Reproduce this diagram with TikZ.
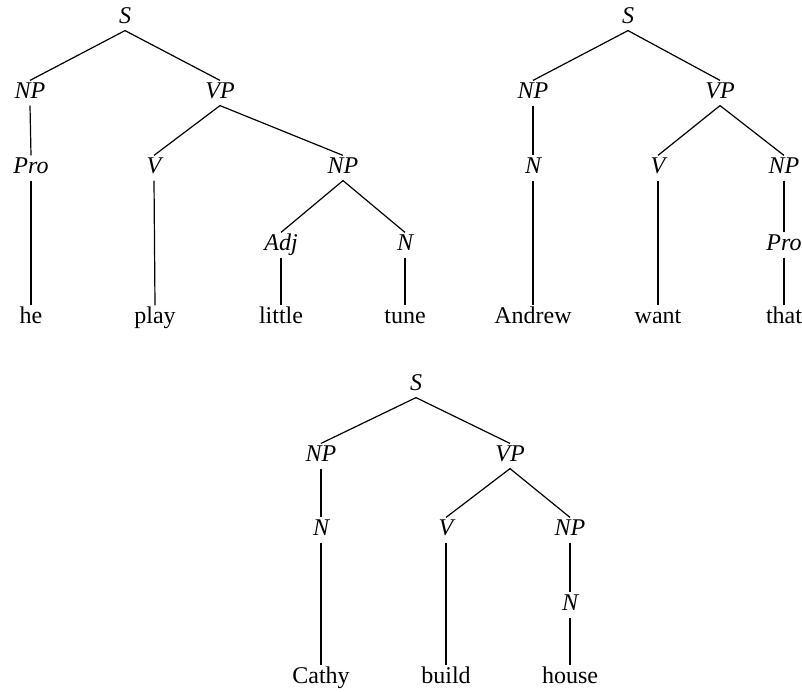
\documentclass[tikz,border=0pt]{standalone}
\usepackage{fontspec}
\setmainfont{Liberation Serif}
\usepackage{tikz}

\begin{document}
\begin{tikzpicture}[x=0.5pt, y=-0.5pt, line width=0.6pt,
  every node/.style={inner sep=1.5pt, text height=0.7em, text depth=0.2em,
    font=\fontsize{12}{14}\selectfont},
  cat/.style={font=\fontsize{12}{14}\selectfont\itshape}]
  \useasboundingbox (0,0) rectangle (802,691);
  % he play little tune
  \node[cat] (s1) at (125,18) {S};
  \node[cat] (np1) at (30,93) {NP};
  \node[cat] (vp1) at (220,93) {VP};
  \node[cat] (pro1) at (31,168) {Pro};
  \node[cat] (v1) at (154,168) {V};
  \node[cat] (obj1) at (343,168) {NP};
  \node[cat] (adj1) at (281,245) {Adj};
  \node[cat] (n1) at (405,245) {N};
  \node (he) at (31,318) {he};
  \node (play) at (155,318) {play};
  \node (little) at (281,318) {little};
  \node (tune) at (405,318) {tune};
  \foreach \a/\b in {s1/np1, s1/vp1, np1/pro1, pro1/he, vp1/v1, vp1/obj1,
                     v1/play, obj1/adj1, obj1/n1, adj1/little, n1/tune}
    \draw (\a.south) -- (\b.north);
  % Andrew want that
  \node[cat] (s2) at (628,18) {S};
  \node[cat] (np2) at (533,93) {NP};
  \node[cat] (vp2) at (720,93) {VP};
  \node[cat] (n2) at (533,168) {N};
  \node[cat] (v2) at (658,168) {V};
  \node[cat] (obj2) at (784,168) {NP};
  \node[cat] (pro2) at (784,245) {Pro};
  \node (andrew) at (533,318) {Andrew};
  \node (want) at (658,318) {want};
  \node (that) at (784,318) {that};
  \foreach \a/\b in {s2/np2, s2/vp2, np2/n2, n2/andrew, vp2/v2, vp2/obj2,
                     v2/want, obj2/pro2, pro2/that}
    \draw (\a.south) -- (\b.north);
  % Cathy build house
  \node[cat] (s3) at (416,385) {S};
  \node[cat] (np3) at (321,456) {NP};
  \node[cat] (vp3) at (510,456) {VP};
  \node[cat] (n3) at (321,530) {N};
  \node[cat] (v3) at (446,530) {V};
  \node[cat] (obj3) at (570,530) {NP};
  \node[cat] (n3b) at (570,605) {N};
  \node (cathy) at (321,678) {Cathy};
  \node (build) at (446,678) {build};
  \node (house) at (570,678) {house};
  \foreach \a/\b in {s3/np3, s3/vp3, np3/n3, n3/cathy, vp3/v3, vp3/obj3,
                     v3/build, obj3/n3b, n3b/house}
    \draw (\a.south) -- (\b.north);
\end{tikzpicture}
\end{document}
